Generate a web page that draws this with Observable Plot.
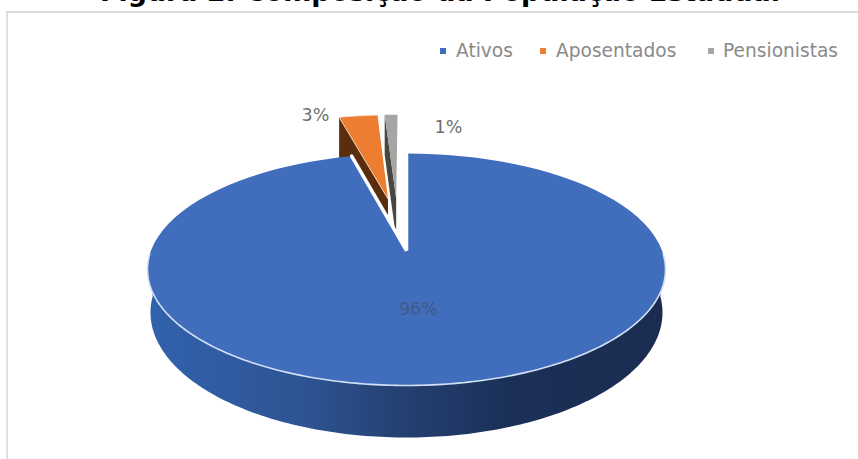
<!DOCTYPE html>
<html lang="pt">
<head>
<meta charset="utf-8">
<title>Composição da População Estadual</title>
<script src="https://cdn.jsdelivr.net/npm/d3@7"></script>
<script src="https://cdn.jsdelivr.net/npm/@observablehq/plot@0.6"></script>
<style>
  html, body { margin: 0; padding: 0; background: #fff; width: 858px; height: 459px; overflow: hidden; }
  #page { position: relative; width: 858px; height: 459px; overflow: hidden; }
  #frame { position: absolute; left: 6px; top: 11px; right: -4px; bottom: -4px;
           border-left: 2px solid #e0e0e0; border-top: 2px solid #dadada; }
  #title { position: absolute; left: 0; width: 880px; top: -21px; text-align: center; white-space: nowrap;
           font: bold 26.9px/26px "DejaVu Sans", sans-serif; color: #000; }
  #legend span.item { position: absolute; top: 41px; font: 18.6px/20px "DejaVu Sans", sans-serif; color: #8a8a8a; white-space: nowrap; }
  #legend i { position: absolute; top: 48px; width: 6px; height: 6px; }
  svg { position: absolute; left: 0; top: 0; }
</style>
</head>
<body>
<div id="page">
  <div id="frame"></div>
  <div id="title">Figura 2. Composição da População Estadual</div>
  <div id="legend"></div>
</div>
<script>
// Shares of the state population, as labelled on the pie
const categories = ["Ativos", "Aposentados", "Pensionistas"];
const shares = [96, 3, 1];
const faceColors = ["#416ebc", "#ed7d31", "#a5a5a5"];
const wallColors = ["#2b4f8f", "#5a2d0c", "#4a4640"];
const labelColors = ["#3f5a88", "#6f6f6f", "#6f6f6f"];

// How far each wedge is pulled out of the pie, and in which direction (degrees from 12 o'clock)
const pullDistance = [0, 0.5, 0.5];
const pullBearing = [0, -9, -5];

// Where each percentage sits on the pie's plane (unit circle, v points away from the viewer)
const labelU = [0.043, -0.443, 0.2];
const labelV = [-0.481, 1.487, 1.325];

// Legend layout
const legendTextLeft = [456, 556, 723];
const legendKeyLeft = [440, 540, 708];

// Perspective of the tilted disc
const tilt = 0.1638;
const squash = Math.sqrt(1 - tilt * tilt);
const project = (u, v) => ({x: (u * squash) / (1 + tilt * v), y: v / (1 + tilt * v)});
const yFar = 1 / (1 + tilt);
const yNear = -1 / (1 - tilt);
const yMid = (yFar + yNear) / 2;
const yUnitsPerPixel = (yFar - yNear) / 232;

// Lower rim of the disc, and the depth of the pulled-out wedges
const lowerRim = {scaleX: 256 / 259, scaleY: 125 / 116, drop: 43 * yUnitsPerPixel};
const wedgeDepth = 40 * yUnitsPerPixel;

const toRad = (deg) => (deg * Math.PI) / 180;
const range = (a, b, n) => d3.range(n + 1).map((i) => a + ((b - a) * i) / n);

// Wedge angles run clockwise from 12 o'clock, starting with the largest share
const arcs = [];
{
  let start = 0;
  for (const share of shares) {
    arcs.push({start, end: start + (share / 100) * 360});
    start += (share / 100) * 360;
  }
}

function wedgeOutline(i) {
  const {start, end} = arcs[i];
  const ou = pullDistance[i] * Math.sin(toRad(pullBearing[i]));
  const ov = pullDistance[i] * Math.cos(toRad(pullBearing[i]));
  const rim = range(start, end, 96).map((a) => project(ou + Math.sin(toRad(a)), ov + Math.cos(toRad(a))));
  return {apex: project(ou, ov), rim};
}

const wedges = categories.map((_, i) => wedgeOutline(i));

const polygon = (points, fill, extra = {}) =>
  Plot.line(points, {x: "x", y: "y", fill, stroke: "none", curve: "linear", ...extra});

// Side wall seen on a pulled-out wedge: its leading radial face
function wedgeWall(i) {
  const {apex, rim} = wedges[i];
  const outer = rim[0];
  return [outer, apex, {x: apex.x, y: apex.y - wedgeDepth}, {x: outer.x, y: outer.y - wedgeDepth}];
}

// Front band of the big slice, between the visible half of the top rim and the lower rim
const topEllipse = (a) => project(Math.sin(toRad(a)), Math.cos(toRad(a)));
const frontTop = range(92, 268, 180).map(topEllipse);
const frontBottom = range(268, 92, 180).map(topEllipse).map((p) => ({
  x: p.x * lowerRim.scaleX,
  y: yMid + (p.y - yMid) * lowerRim.scaleY - lowerRim.drop
}));

const blue = wedges[0];
const blueFace = [blue.apex, ...blue.rim];
const blueCuts = [blue.rim[blue.rim.length - 1], blue.apex, blue.rim[0]];
const frontRim = range(92, 268, 180).map(topEllipse);

const labels = categories.map((c, i) => ({...project(labelU[i], labelV[i]), text: `${shares[i]}%`, color: labelColors[i]}));

const chart = Plot.plot({
  width: 858,
  height: 459,
  margin: 0,
  style: {background: "transparent", fontFamily: "DejaVu Sans"},
  x: {domain: [-1, 1], range: [147, 665], axis: null},
  y: {domain: [yNear, yFar], range: [385, 153], axis: null},
  marks: [
    () => {
      const defs = d3.create("svg:defs");
      const grad = defs.append("linearGradient").attr("id", "band");
      [[0, "#3262ad"], [0.3, "#2d5493"], [0.5, "#243f70"], [0.7, "#1b3058"], [1, "#1a2c50"]].forEach(([o, c]) =>
        grad.append("stop").attr("offset", o).attr("stop-color", c)
      );
      return defs.node();
    },
    polygon(wedgeWall(2), wallColors[2]),
    polygon([wedges[2].apex, ...wedges[2].rim], faceColors[2]),
    polygon(wedgeWall(1), wallColors[1]),
    polygon([wedges[1].apex, ...wedges[1].rim], faceColors[1], {stroke: "#fbe3d2", strokeWidth: 0.8}),
    polygon([...frontTop, ...frontBottom], "url(#band)"),
    polygon(blueFace, faceColors[0]),
    Plot.line(blueCuts, {x: "x", y: "y", stroke: "#fff", strokeWidth: 3.5, strokeLinejoin: "miter", curve: "linear"}),
    Plot.line(frontRim, {x: "x", y: "y", stroke: "#d3e0f6", strokeWidth: 1.6, curve: "linear"}),
    Plot.text(labels, {x: "x", y: "y", text: "text", fill: "color", fontSize: 17.5})
  ]
});
document.getElementById("page").appendChild(chart);

// Legend row over the chart's upper right corner
const legend = d3.select("#legend");
categories.forEach((c, i) => {
  legend.append("i").style("left", `${legendKeyLeft[i]}px`).style("background", faceColors[i]);
  legend.append("span").attr("class", "item").style("left", `${legendTextLeft[i]}px`).text(c);
});
</script>
</body>
</html>
